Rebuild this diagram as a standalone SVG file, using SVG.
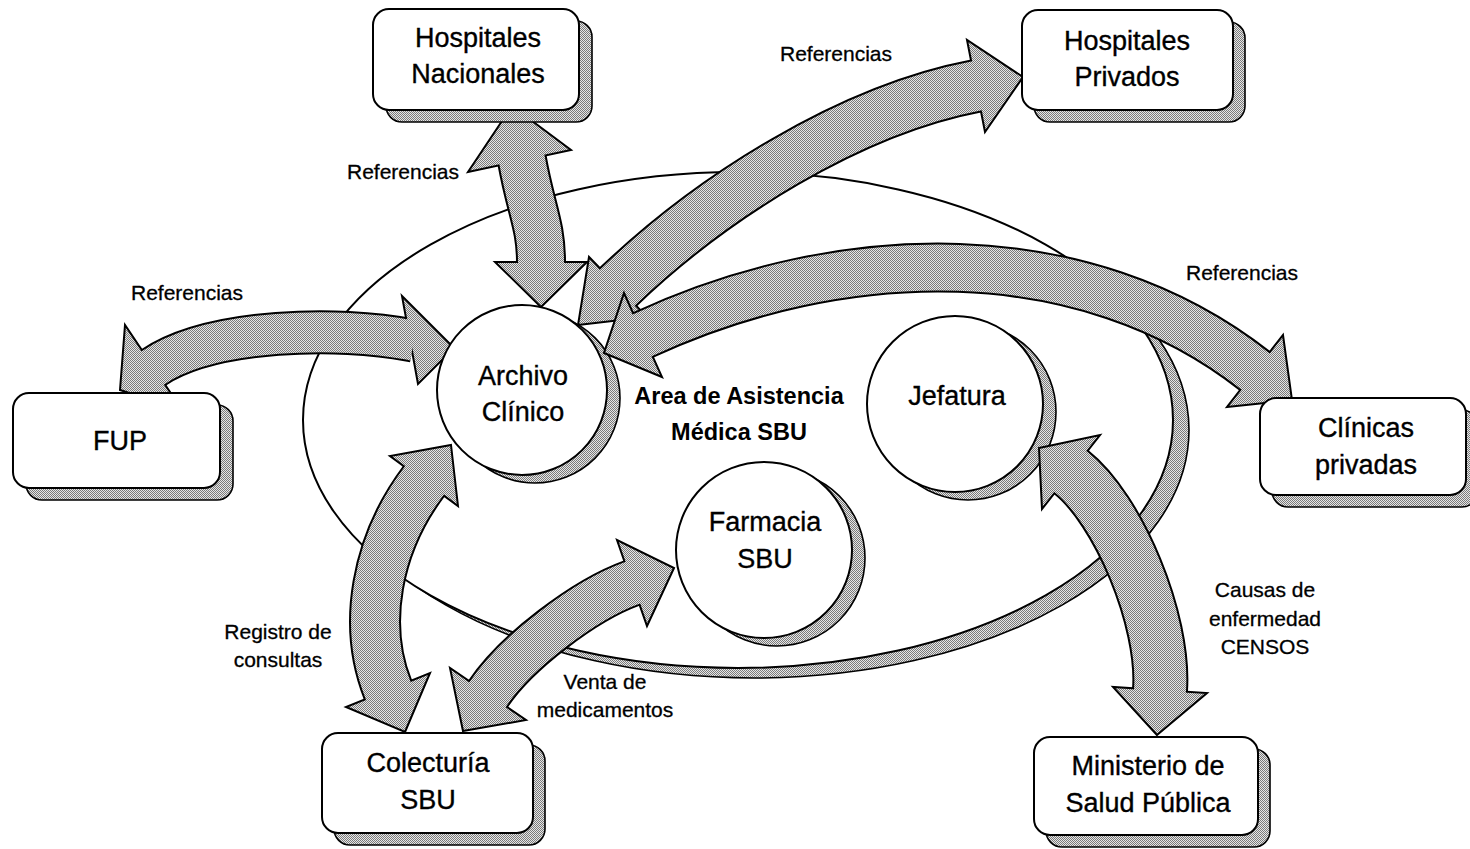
<svg xmlns="http://www.w3.org/2000/svg" width="1470" height="849" viewBox="0 0 1470 849">
<defs>
  <!-- dithered grey used for shadows and block arrows -->
  <pattern id="dots" width="2" height="2" patternUnits="userSpaceOnUse">
    <rect width="2" height="2" fill="#e6e6e6"/>
    <rect width="1" height="1" fill="#7a7a7a"/>
    <rect x="1" y="1" width="1" height="1" fill="#7a7a7a"/>
  </pattern>
</defs>
<style>
  .box { fill:#fff; stroke:#000; stroke-width:2; }
  .shadow { fill:url(#dots); stroke:#000; stroke-width:1.6; }
  .head { fill:url(#dots); stroke:#000; stroke-width:2; stroke-linejoin:miter; }
  .sh-out { fill:none; stroke:#000; }
  .sh-in { fill:none; stroke:url(#dots); }
  .t { font-family:"Liberation Sans", Arial, sans-serif; font-size:27px; text-anchor:middle; fill:#000; stroke:#000; stroke-width:0.35; }
  .lbl { font-family:"Liberation Sans", Arial, sans-serif; font-size:21px; text-anchor:middle; fill:#000; stroke:#000; stroke-width:0.3; }
  .area { font-family:"Liberation Sans", Arial, sans-serif; font-size:23.5px; font-weight:bold; text-anchor:middle; fill:#000; }
</style>
<rect width="1470" height="849" fill="#fff"/>

<!-- central area ellipse -->
<g id="area">
  <ellipse cx="754" cy="430" rx="435" ry="248" class="shadow"/>
  <ellipse cx="738" cy="420" rx="435" ry="248" class="box"/>
  <text class="area" x="739" y="404">Area de Asistencia</text>
  <text class="area" x="739" y="440">Médica SBU</text>
</g>

<!-- circle shadows (under the arrows) -->
<g id="circle-shadows">
  <circle cx="535" cy="398" r="85" class="shadow"/>
  <circle cx="968" cy="412" r="88" class="shadow"/>
  <circle cx="777" cy="558" r="88" class="shadow"/>
</g>

<g id="connectors">
  <!-- Hospitales Nacionales <-> Archivo Clinico -->
  <g id="arrow-hn">
    <path class="sh-out" stroke-width="50" d="M521.3,156.1 L522,160 C531,210 541,225 541,262 L541,266"/>
    <polygon class="head" points="512,106 571,150 468,172"/>
    <polygon class="head" points="541,307 587,262 495,262"/>
    <path class="sh-in" stroke-width="46" d="M521.3,156.1 L522,160 C531,210 541,225 541,262 L541,266"/>
  </g>
  <!-- Archivo Clinico <-> Hospitales Privados -->
  <g id="arrow-hp">
    <path class="sh-out" stroke-width="54" d="M615.1,289.8 L618,287 C712,197 850,110 976,86 L979.9,85.2"/>
    <polygon class="head" points="578,325 647,317 589,257"/>
    <polygon class="head" points="1023,77 985,132 967,40"/>
    <path class="sh-in" stroke-width="50" d="M615.1,289.8 L618,287 C712,197 850,110 976,86 L979.9,85.2"/>
  </g>
  <!-- Archivo Clinico <-> Clinicas privadas -->
  <g id="arrow-cp">
    <path class="sh-out" stroke-width="50" d="M639.4,336.7 L643,335 C841,243 1083,236 1255,371 L1258.2,373.5"/>
    <polygon class="head" points="604,353 662,377 624,293"/>
    <polygon class="head" points="1292,400 1227,407 1283,335"/>
    <path class="sh-in" stroke-width="46" d="M639.4,336.7 L643,335 C841,243 1083,236 1255,371 L1258.2,373.5"/>
  </g>
  <!-- FUP <-> Archivo Clinico -->
  <g id="arrow-fup">
    <path class="sh-out" stroke-width="44" d="M150.2,369.7 L153.5,367.5 C211.6,328.5 340,326 410,340 L413.9,340.7"/>
    <polygon class="head" points="120,390 182,410 125,325"/>
    <polygon class="head" points="454,348 402,296 418,384"/>
    <path class="sh-in" stroke-width="40" d="M150.2,369.7 L153.5,367.5 C211.6,328.5 340,326 410,340 L413.9,340.7"/>
  </g>
  <!-- Archivo Clinico <-> Colecturia -->
  <g id="arrow-col">
    <path class="sh-out" stroke-width="52" d="M426.4,477.8 L424,481 C376,545 362,625 388,690 L389.5,693.7"/>
    <polygon class="head" points="451,445 458,506 390,456"/>
    <polygon class="head" points="405,732 430,673 346,707"/>
    <path class="sh-in" stroke-width="48" d="M426.4,477.8 L424,481 C376,545 362,625 388,690 L389.5,693.7"/>
  </g>
  <!-- Farmacia <-> Colecturia -->
  <g id="arrow-farm">
    <path class="sh-out" stroke-width="48" d="M485.8,697.3 L488,694 C516,652 585,600 632,583 L635.8,581.7"/>
    <polygon class="head" points="463,731 526,720 450,668"/>
    <polygon class="head" points="674,568 647,626 617,540"/>
    <path class="sh-in" stroke-width="44" d="M485.8,697.3 L488,694 C516,652 585,600 632,583 L635.8,581.7"/>
  </g>
  <!-- Jefatura <-> Ministerio -->
  <g id="arrow-min">
    <path class="sh-out" stroke-width="56" d="M1067.8,469.6 L1071,472 C1118,509 1165,620 1160,690 L1159.7,694"/>
    <polygon class="head" points="1039,448 1100,435 1042,509"/>
    <polygon class="head" points="1157,735 1207,693 1113,687"/>
    <path class="sh-in" stroke-width="52" d="M1067.8,469.6 L1071,472 C1118,509 1165,620 1160,690 L1159.7,694"/>
  </g>
</g>

<!-- circles inside the area -->
<g id="archivo">
  <circle cx="522" cy="390" r="85" class="box"/>
  <text class="t" x="523" y="385">Archivo</text>
  <text class="t" x="523" y="421">Clínico</text>
</g>
<g id="jefatura">
  <circle cx="955" cy="404" r="88" class="box"/>
  <text class="t" x="957" y="405">Jefatura</text>
</g>
<g id="farmacia">
  <circle cx="764" cy="550" r="88" class="box"/>
  <text class="t" x="765" y="531">Farmacia</text>
  <text class="t" x="765" y="568">SBU</text>
</g>

<!-- outer boxes -->
<g id="hosp-nacionales">
  <rect x="386" y="21" width="206" height="101" rx="16" class="shadow"/>
  <rect x="373" y="9" width="206" height="101" rx="16" class="box"/>
  <text class="t" x="478" y="47">Hospitales</text>
  <text class="t" x="478" y="83">Nacionales</text>
</g>
<g id="hosp-privados">
  <rect x="1034" y="22" width="211" height="100" rx="16" class="shadow"/>
  <rect x="1022" y="10" width="211" height="100" rx="16" class="box"/>
  <text class="t" x="1127" y="50">Hospitales</text>
  <text class="t" x="1127" y="86">Privados</text>
</g>
<g id="fup">
  <rect x="26" y="405" width="207" height="95" rx="16" class="shadow"/>
  <rect x="13" y="393" width="207" height="95" rx="16" class="box"/>
  <text class="t" x="120" y="450">FUP</text>
</g>
<g id="clinicas">
  <rect x="1272" y="410" width="206" height="97" rx="16" class="shadow"/>
  <rect x="1260" y="398" width="206" height="97" rx="16" class="box"/>
  <text class="t" x="1366" y="437">Clínicas</text>
  <text class="t" x="1366" y="474">privadas</text>
</g>
<g id="colecturia">
  <rect x="334" y="745" width="211" height="100" rx="16" class="shadow"/>
  <rect x="322" y="733" width="211" height="100" rx="16" class="box"/>
  <text class="t" x="428" y="772">Colecturía</text>
  <text class="t" x="428" y="809">SBU</text>
</g>
<g id="ministerio">
  <rect x="1046" y="749" width="224" height="98" rx="16" class="shadow"/>
  <rect x="1034" y="737" width="224" height="98" rx="16" class="box"/>
  <text class="t" x="1148" y="775">Ministerio de</text>
  <text class="t" x="1148" y="812">Salud Pública</text>
</g>

<!-- connector labels -->
<g id="labels">
  <text class="lbl" x="403" y="179">Referencias</text>
  <text class="lbl" x="836" y="61">Referencias</text>
  <text class="lbl" x="187" y="300">Referencias</text>
  <text class="lbl" x="1242" y="280">Referencias</text>
  <text class="lbl" x="278" y="639">Registro de</text>
  <text class="lbl" x="278" y="667">consultas</text>
  <text class="lbl" x="605" y="689">Venta de</text>
  <text class="lbl" x="605" y="717">medicamentos</text>
  <text class="lbl" x="1265" y="597">Causas de</text>
  <text class="lbl" x="1265" y="626">enfermedad</text>
  <text class="lbl" x="1265" y="654">CENSOS</text>
</g>
</svg>
